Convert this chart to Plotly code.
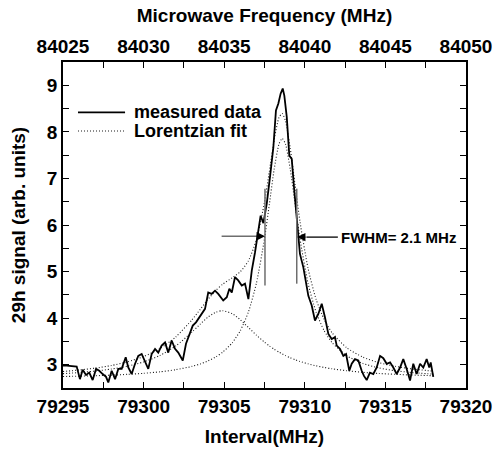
import plotly.graph_objects as go

# ---- measured data (Interval MHz, signal) ----
meas_x = [79295.00, 79295.23, 79295.85, 79296.05, 79296.22, 79296.43, 79296.63, 79296.84, 79297.05, 79297.25,
          79297.46, 79297.67, 79297.81, 79298.02, 79298.23, 79298.43, 79298.64, 79298.89, 79299.05, 79299.26,
          79299.47, 79299.67, 79299.88, 79300.09, 79300.29, 79300.50, 79300.71, 79300.91, 79301.12, 79301.33,
          79301.53, 79301.74, 79301.95, 79302.15, 79302.43, 79302.63, 79302.83, 79303.05, 79303.25, 79303.46,
          79303.67, 79303.81, 79304.01, 79304.22, 79304.43, 79304.63, 79304.94, 79305.16, 79305.32, 79305.47,
          79305.67, 79305.87, 79306.09, 79306.29, 79306.50, 79306.71, 79306.91, 79307.12, 79307.26, 79307.43,
          79307.64, 79307.84, 79308.05, 79308.21, 79308.36, 79308.50, 79308.63, 79308.73, 79308.88, 79309.04,
          79309.19, 79309.33, 79309.50, 79309.60, 79309.70, 79309.91, 79310.07, 79310.22, 79310.43, 79310.63,
          79310.84, 79311.05, 79311.25, 79311.46, 79311.67, 79311.87, 79311.98, 79312.18, 79312.39, 79312.56,
          79312.76, 79312.91, 79313.11, 79313.32, 79313.53, 79313.67, 79313.84, 79314.04, 79314.25, 79314.46,
          79314.67, 79314.87, 79315.08, 79315.29, 79315.49, 79315.70, 79315.91, 79316.11, 79316.32, 79316.53,
          79316.73, 79316.94, 79317.15, 79317.35, 79317.56, 79317.72, 79317.81, 79317.97]
meas_y = [2.98, 2.98, 2.96, 2.69, 2.89, 2.78, 2.83, 2.67, 2.91, 2.87,
          2.80, 2.74, 2.62, 2.87, 2.69, 2.91, 2.91, 3.16, 2.94, 2.80,
          3.02, 3.19, 3.23, 3.05, 2.91, 3.23, 3.34, 3.26, 3.41, 3.48,
          3.26, 3.52, 3.34, 3.26, 3.09, 3.45, 3.66, 3.84, 3.91, 4.02,
          4.12, 4.20, 4.55, 4.52, 4.59, 4.52, 4.38, 4.45, 4.63, 4.55,
          4.88, 4.81, 4.70, 4.74, 4.41, 5.02, 5.41, 5.88, 6.20, 6.04,
          6.46, 7.03, 7.67, 8.46, 8.61, 8.82, 8.93, 8.78, 8.32, 7.49,
          7.42, 6.81, 6.13, 5.74, 5.38, 5.09, 4.74, 4.48, 4.27, 3.95,
          4.09, 4.31, 4.02, 3.66, 3.55, 3.59, 3.41, 3.34, 3.19, 3.23,
          2.87, 3.02, 3.12, 3.09, 2.87, 2.76, 2.67, 2.83, 2.80, 2.94,
          3.19, 3.14, 3.02, 3.05, 2.94, 2.80, 2.94, 3.12, 2.91, 2.66,
          3.02, 2.80, 3.02, 2.94, 3.12, 2.94, 3.05, 2.74]

# ---- Lorentzian fit curves ----
fit_x = [79295, 79296, 79297, 79298, 79299, 79300, 79301, 79302, 79303, 79303.5,
         79304, 79304.5, 79304.9, 79305.5, 79306, 79306.5, 79307, 79307.5, 79307.8, 79308.1,
         79308.4, 79308.6, 79308.8, 79309.1, 79309.4, 79309.7, 79310.2, 79310.7, 79311.2, 79311.7,
         79312.6, 79313.6, 79314.6, 79315.6, 79316.6, 79318]
fit_sum = [2.855, 2.886, 2.927, 2.983, 3.061, 3.175, 3.344, 3.597, 3.964, 4.183,
           4.406, 4.602, 4.727, 4.867, 4.997, 5.229, 5.686, 6.491, 7.146, 7.828,
           8.310, 8.394, 8.237, 7.644, 6.849, 6.078, 5.071, 4.405, 3.973, 3.683,
           3.364, 3.164, 3.043, 2.966, 2.912, 2.861]
fit_narrow = [2.747, 2.754, 2.764, 2.776, 2.793, 2.815, 2.847, 2.893, 2.964, 3.015,
              3.082, 3.171, 3.267, 3.471, 3.732, 4.129, 4.752, 5.707, 6.442, 7.195,
              7.740, 7.860, 7.740, 7.195, 6.442, 5.707, 4.752, 4.129, 3.732, 3.471,
              3.193, 3.027, 2.931, 2.872, 2.833, 2.797]
fit_broad = [2.808, 2.832, 2.863, 2.907, 2.968, 3.060, 3.197, 3.404, 3.700, 3.868,
             4.024, 4.131, 4.160, 4.096, 3.965, 3.800, 3.634, 3.484, 3.404, 3.333,
             3.270, 3.234, 3.197, 3.149, 3.107, 3.071, 3.019, 2.976, 2.941, 2.912,
             2.871, 2.837, 2.812, 2.794, 2.779, 2.764]

x_ticks = [79295, 79300, 79305, 79310, 79315, 79320]
top_ticks = [84025, 84030, 84035, 84040, 84045, 84050]
y_ticks = [3, 4, 5, 6, 7, 8, 9]

FONT = "Arial, Liberation Sans, sans-serif"
BOLD = lambda s: dict(family=FONT, size=s, color="black", weight="bold")

fig = go.Figure()
dot = dict(color="#1a1a1a", width=1.1, dash="1px,2px", shape="spline", smoothing=0.6)
for ys in (fit_sum, fit_narrow, fit_broad):
    fig.add_trace(go.Scatter(x=fit_x, y=ys, mode="lines", line=dot, showlegend=False, hoverinfo="skip"))
fig.add_trace(go.Scatter(x=meas_x, y=meas_y, mode="lines", line=dict(color="black", width=1.8),
                         showlegend=False))

axis_common = dict(showline=True, linecolor="black", linewidth=1.5, ticks="inside", ticklen=6,
                   tickwidth=1.2, tickcolor="black", showgrid=False, zeroline=False,
                   automargin=False, tickfont=BOLD(19))

fig.update_layout(
    width=495, height=453,
    margin=dict(l=63, r=29, t=62, b=65, autoexpand=False),
    paper_bgcolor="white", plot_bgcolor="white",
    showlegend=False,
    xaxis=dict(range=[79295, 79320], tickvals=x_ticks, ticktext=[str(v) for v in x_ticks],
               minor=dict(ticks="inside", ticklen=6, tickcolor="black", dtick=2.5, tick0=79295),
               title=dict(text="<b>Interval(MHz)</b>", font=BOLD(19), standoff=14),
               **axis_common),
    xaxis2=dict(range=[84025, 84050], overlaying="x", side="top", anchor="y",
                tickvals=top_ticks, ticktext=[str(v) for v in top_ticks],
                minor=dict(ticks="inside", ticklen=6, tickcolor="black", dtick=2.5, tick0=84025),
                title=dict(text="<b>Microwave Frequency (MHz)</b>", font=BOLD(19), standoff=8),
                **axis_common),
    yaxis=dict(range=[2.5, 9.5], tickvals=y_ticks, mirror="ticks",
               minor=dict(ticks="inside", ticklen=6, tickcolor="black", dtick=0.5, tick0=2.5),
               title=dict(text="<b>29h signal (arb. units)</b>", font=BOLD(19), standoff=16),
               **axis_common),
)
fig.add_trace(go.Scatter(x=[84025, 84050], y=[None, None], xaxis="x2", yaxis="y",
                         mode="lines", showlegend=False, hoverinfo="skip"))

# FWHM markers
gray = "#6e6e6e"
fig.add_shape(type="line", x0=79307.53, x1=79307.53, y0=4.70, y1=6.78, line=dict(color=gray, width=1.5))
fig.add_shape(type="line", x0=79309.50, x1=79309.50, y0=4.74, y1=6.78, line=dict(color=gray, width=1.5))
fig.add_shape(type="line", x0=79304.84, x1=79307.0, y0=5.76, y1=5.76, line=dict(color=gray, width=1.5))
fig.add_annotation(x=79307.53, y=5.76, ax=-10, ay=0, text="",
                   showarrow=True, arrowhead=2, arrowsize=1.2, arrowwidth=1.4, arrowcolor="black")
fig.add_shape(type="line", x0=79310.1, x1=79312.05, y0=5.74, y1=5.74, line=dict(color="black", width=1.3))
fig.add_annotation(x=79309.52, y=5.74, ax=10, ay=0, text="",
                   showarrow=True, arrowhead=2, arrowsize=1.2, arrowwidth=1.4, arrowcolor="black")
fig.add_annotation(x=79312.15, y=5.74, text="<b>FWHM= 2.1 MHz</b>", showarrow=False, xanchor="left",
                   font=BOLD(15))

# legend (drawn)
fig.add_shape(type="line", x0=79295.93, x1=79298.85, y0=8.42, y1=8.42, line=dict(color="black", width=1.8))
fig.add_shape(type="line", x0=79295.93, x1=79298.85, y0=8.02, y1=8.02,
              line=dict(color="#1a1a1a", width=1.1, dash="1px,2px"))
fig.add_annotation(x=79299.3, y=8.42, text="<b>measured data</b>", showarrow=False, xanchor="left",
                   font=BOLD(18))
fig.add_annotation(x=79299.3, y=8.02, text="<b>Lorentzian fit</b>", showarrow=False, xanchor="left",
                   font=BOLD(18))

fig.write_html("out.html")
